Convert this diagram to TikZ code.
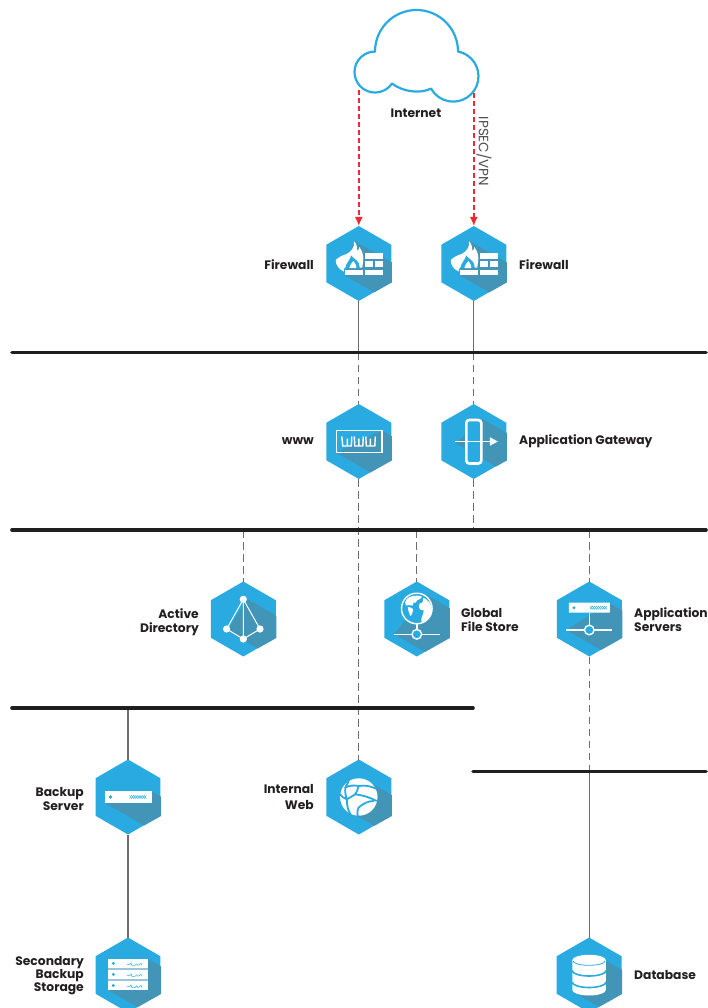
\documentclass[tikz,border=0pt]{standalone}
\usepackage{fontspec}
\setmainfont{Poppins}
\usetikzlibrary{shapes.geometric,arrows.meta,calc}
\definecolor{hexblue}{HTML}{29ABE2}
\definecolor{hexshade}{HTML}{4395B7}
\definecolor{linegray}{HTML}{6E6E6E}
\definecolor{txt}{HTML}{231F20}
\definecolor{arrowred}{HTML}{EE2A30}
\tikzset{
  hexnode/.style={regular polygon,regular polygon sides=6,shape border rotate=30,minimum size=75pt,inner sep=0pt,outer sep=0pt,fill=hexblue,draw=none},
  bus/.style={line width=3.6pt,draw=black!88,line cap=round},
  solidlink/.style={draw=linegray,line width=1.2pt},
  dashlink/.style={draw=linegray,line width=1.3pt,dash pattern=on 7.5pt off 4.5pt},
  redlink/.style={draw=arrowred,line width=1.6pt,dash pattern=on 5pt off 3pt,-{Latex[length=9pt,width=8pt]}},
  lab/.style={font=\fontsize{12.3pt}{14pt}\selectfont\bfseries,text=txt,inner sep=0pt},
  labr/.style={lab,anchor=east,align=right},
  labl/.style={lab,anchor=west,align=left},
  whiteline/.style={draw=white,line width=1.4pt},
  bluefine/.style={draw=hexblue,line width=.4pt},
  x=1pt,y=-1pt
}
\newcommand{\hexa}[5]{%
  \node[hexnode] (#1) at (#2,#3) {};
  \begin{scope}[shift={(#2,#3)}]
    \clip (0,-37.5)--(33,-19)--(33,19)--(0,37.5)--(-33,19)--(-33,-19)--cycle;
    \fill[hexshade] (#4) -- ++(87,50) -- ($(#5)+(87,50)$) -- (#5) -- cycle;
  \end{scope}%
}
\newcommand{\servdots}[2]{%
  \draw[bluefine] (#1,#2-1.6) -- ++(2.1,3.2) -- ++(2.1,-3.2) -- ++(2.1,3.2) -- ++(2.1,-3.2) -- ++(2.1,3.2) -- ++(2.1,-3.2) -- ++(2.1,3.2) -- ++(2.1,-3.2);
  \draw[bluefine] (#1,#2+1.6) -- ++(2.1,-3.2) -- ++(2.1,3.2) -- ++(2.1,-3.2) -- ++(2.1,3.2) -- ++(2.1,-3.2) -- ++(2.1,3.2) -- ++(2.1,-3.2) -- ++(2.1,3.2);
}
\newcommand{\fwicon}{%
  \fill[white] (-5,-22.5) .. controls (-1,-19) and (-2,-15) .. (-1.5,-12.5)
    .. controls (0,-13.5) and (0.5,-15) .. (0.5,-16.5)
    .. controls (4,-12) and (5,-7) .. (4.3,-2) -- (3.5,4) -- (-14,4)
    .. controls (-15,5.5) and (-15.5,6.5) .. (-15,8)
    .. controls (-20,6) and (-23.5,1) .. (-23,-3.5)
    .. controls (-20,-6.5) and (-16,-8.5) .. (-12,-9.5)
    .. controls (-8,-12) and (-3.5,-16) .. (-5,-22.5) -- cycle;
  \fill[hexblue] (-13.5,4.5) .. controls (-13,0) and (-9,-3) .. (-7.5,-8)
    .. controls (-5.5,-5) and (-1,-3) .. (0,0) -- (1,4.5) -- cycle;
  \fill[white] (-9.5,4.5) .. controls (-8.5,1) and (-6.5,-1) .. (-5.5,-2.5)
    .. controls (-4,-1) and (-2.5,1) .. (-2.5,4.5) -- cycle;
  \fill[white] (6,-10.5) rectangle (24,-5);
  \fill[white] (6,-2.5) rectangle (14.5,3);
  \fill[white] (16,-2.5) rectangle (24,3);
  \fill[white] (-14,6) rectangle (4,11.5);
  \fill[white] (6,6) rectangle (24,11.5);
}
\begin{document}
\begin{tikzpicture}
\useasboundingbox (0,0) rectangle (707,1008);
\coordinate (b1l) at (12,352.5); \coordinate (b1r) at (706,352.5);
\coordinate (b2l) at (12,530); \coordinate (b2r) at (706,530);
\coordinate (b3l) at (12,708); \coordinate (b3r) at (473,708);
\coordinate (b4l) at (473,771.5); \coordinate (b4r) at (706,771.5);
\hexa{fwa}{358.8}{263.5}{-5,-23}{-14,12}
\hexa{fwb}{473.8}{263.5}{-5,-23}{-14,12}
\hexa{www}{358.8}{441.5}{23,-11}{-23,11}
\hexa{gate}{473.8}{441.5}{8,-23}{-18,2}
\hexa{ad}{243.3}{619}{4,-20}{-16,12}
\hexa{gfs}{416.8}{619}{10,-24}{-23,15}
\hexa{apps}{589.3}{619}{20,-16}{-23,11}
\hexa{backup}{128}{797}{23,-6}{-23,6}
\hexa{web}{358.8}{797}{12,-14}{-14,12}
\hexa{sec}{128}{975}{20,-16}{-20,15}
\hexa{db}{589.1}{975}{16,-15}{-16,17}
\coordinate (cl) at (358.8,90);
\coordinate (cr) at (473.8,93);
\draw[redlink] (cl) -- (fwa.north);
\draw[redlink] (cr) -- (fwb.north);
\draw[solidlink] (fwa.south) -- (fwa.south |- b1l);
\draw[dashlink] (fwa.south |- b1l) -- (www.north);
\draw[solidlink] (fwb.south) -- (fwb.south |- b1l);
\draw[dashlink] (fwb.south |- b1l) -- (gate.north);
\draw[dashlink] (gate.south) -- (gate.south |- b2l);
\draw[dashlink] (www.south) -- (web.north);
\draw[dashlink] (ad.north |- b2l) -- (ad.north);
\draw[dashlink] (gfs.north |- b2l) -- (gfs.north);
\draw[dashlink] (apps.north |- b2l) -- (apps.north);
\draw[dashlink] (apps.south) -- (apps.south |- b4l);
\draw[solidlink] (db.north |- b4l) -- (db.north);
\draw[solidlink] (backup.north |- b3l) -- (backup.north);
\draw[solidlink] (backup.south) -- (sec.north);
\draw[bus] (b1l) -- (b1r);
\draw[bus] (b2l) -- (b2r);
\draw[bus] (b3l) -- (b3r);
\draw[bus] (b4l) -- (b4r);
\draw[draw=hexblue,line width=2.2pt,line join=round] (375,51.5) arc[start angle=180,end angle=0,radius=41.5pt]
  arc[start angle=79,end angle=-151,radius=25.3pt]
  .. controls (420,94) and (403,92) .. (392,83.5)
  arc[start angle=-34,end angle=-270,radius=20.5pt] -- cycle;
\begin{scope}[shift={(358.8,263.5)}]\fwicon\end{scope}
\begin{scope}[shift={(473.8,263.5)}]\fwicon\end{scope}
\begin{scope}[shift={(358.8,441.5)}]
  \draw[whiteline] (-22.5,-11) rectangle (23,11);
  \draw[white,line width=1.4pt] (-17,-5) -- (-16,4.5) -- (-11.5,4.5) -- (-11.5,-3) (-11.5,4.5) -- (-7.5,4.5) -- (-7,-5);
  \draw[white,line width=1.4pt] (-4.5,-5) -- (-4,4.5) -- (0,4.5) -- (0,-3) (0,4.5) -- (4,4.5) -- (4.5,-5);
  \draw[white,line width=1.4pt] (7,-5) -- (7.5,4.5) -- (11.5,4.5) -- (11.5,-3) (11.5,4.5) -- (16,4.5) -- (16.5,-5);
\end{scope}
\begin{scope}[shift={(473.8,441.5)}]
  \draw[white,line width=2.6pt,rounded corners=3pt,fill=hexblue] (-7.5,-21.5) rectangle (7.5,22);
  \draw[white,line width=1.6pt] (-19,0) -- (17,0);
  \fill[white] (16,-4.3) -- (24,0) -- (16,4.3) -- cycle;
\end{scope}
\begin{scope}[shift={(243.3,619)}]
  \draw[white,line width=1pt] (0,-19.7) -- (-16.7,10) -- (0,20) -- (16.7,10) -- cycle (0,-19.7) -- (0,20);
  \foreach \p in {(0,-19.7),(-16.7,10),(16.7,10),(0,20)} \fill[white] \p circle[radius=3.6pt];
\end{scope}
\begin{scope}[shift={(416.8,619)}]
  \draw[white,line width=1.4pt,fill=hexblue] (0,-10.5) circle[radius=15.3pt];
  \fill[white] (-10,-20) .. controls (-7,-23) and (0,-24.5) .. (5,-22.5) .. controls (4,-18.5) and (0,-20.5) .. (-1,-16.5)
    .. controls (-3,-17.5) and (-5,-15.5) .. (-4,-13.5) .. controls (-7,-13.5) and (-9,-14.5) .. (-11,-13.5) .. controls (-12,-15.5) and (-12,-18) .. (-10,-20) -- cycle;
  \fill[white] (-9,-12) .. controls (-5,-11.5) and (-3,-10.5) .. (-4,-7.5) .. controls (-5,-3.5) and (-7,-1.5) .. (-7,-4.5) .. controls (-7,-7.5) and (-10,-8.5) .. (-9,-12) -- cycle;
  \fill[white] (6,-21.5) .. controls (11,-19.5) and (15,-15) .. (15,-10) .. controls (15,-3.5) and (11,1.5) .. (5,3.5) .. controls (3,-0.5) and (7,-4.5) .. (7,-8.5) .. controls (2,-8.5) and (1,-12.5) .. (3,-15.5) .. controls (6,-15.5) and (7,-18.5) .. (6,-21.5) -- cycle;
  \draw[whiteline] (0,5) -- (0,10) (-23,15.3) -- (23,15.3);
  \draw[white,line width=1.4pt,fill=hexblue] (0,15.3) circle[radius=4.8pt];
\end{scope}
\begin{scope}[shift={(589.3,619)}]
  \fill[white,rounded corners=.5pt] (-20.5,-16.3) rectangle (20.5,-6.3);
  \fill[hexblue] (-15.3,-11.3) circle[radius=1.6pt];
  \servdots{0.8}{-11.3}
  \draw[whiteline] (0,-6.3) -- (0,7) (-23,11) -- (23,11);
  \draw[white,line width=1.4pt,fill=hexblue] (0,11) circle[radius=4.8pt];
\end{scope}
\begin{scope}[shift={(128,797)}]
  \fill[white] (-23,-6) rectangle (23.7,6);
  \fill[hexblue] (-17.5,0) circle[radius=1.9pt];
  \servdots{1.5}{0}
\end{scope}
\begin{scope}[shift={(358.8,797)}]
  \fill[white] (0,0) circle[radius=18.7pt];
  \draw[hexblue,line width=1.8pt]
    (-10,-19) .. controls (-10,-15) and (-12,-12) .. (-13.6,-9.4)
    .. controls (-14,-5) and (-13,-1) .. (-12,2.3)
    .. controls (-12,8) and (-11,13) .. (-8,18)
    (-13.6,-9.4) .. controls (-9,-11.5) and (-5,-12) .. (-0.3,-11)
    .. controls (6,-12) and (12,-11) .. (18,-8)
    (-0.3,-11) .. controls (-1,-8) and (-2,-5) .. (-3.6,-2.7)
    .. controls (-7,-1) and (-9,1) .. (-12,2.3)
    (-19,-3) .. controls (-17,0) and (-15,1) .. (-12,2.3)
    (-3.6,-2.7) .. controls (3,-2) and (10,0) .. (18,4)
    (-1,19) .. controls (-2,15) and (-1,13) .. (-0.3,10.6)
    .. controls (5,6) and (10,4) .. (15,4);
\end{scope}
\begin{scope}[shift={(128,975)}]
  \fill[hexshade!55!white] (-19.7,-12) rectangle (20,12);
  \foreach \a/\b in {-16.3/-7,-5.3/4,5.7/15.3}{
    \fill[white] (-19.7,\a) rectangle (20,\b);
    \fill[hexblue] (-14.7,{(\a+\b)/2}) circle[radius=1.6pt];
    \draw[bluefine,line width=.5pt] (-1,{(\a+\b)/2+1}) -- ++(3,0) -- ++(1,-1.5) -- ++(1,2.5) -- ++(3,0) -- ++(1.5,-1.5) -- ++(1.5,1.5) -- ++(3,-2) -- ++(1,2);
  }
\end{scope}
\begin{scope}[shift={(589.1,975)}]
  \fill[white] (-16.7,-15) -- (-16.7,15) arc[start angle=180,end angle=360,x radius=16.7pt,y radius=5.5pt] -- (16.7,-15) -- cycle;
  \fill[white] (0,-15) ellipse[x radius=16.7pt,y radius=5.2pt];
  \draw[hexblue,line width=.8pt] (-16,-14) arc[start angle=180,end angle=360,x radius=16pt,y radius=4.3pt];
  \draw[hexblue,line width=1.6pt] (-17,-4.5) arc[start angle=180,end angle=360,x radius=17pt,y radius=5.5pt];
  \draw[hexblue,line width=1.6pt] (-17,7) arc[start angle=180,end angle=360,x radius=17pt,y radius=5.5pt];
\end{scope}
\node[lab] (inet) at (416,113.5) {Internet};
\node[labr] (lfwa) at (314,264.5) {Firewall};
\node[labl] (lfwb) at (519,264.5) {Firewall};
\node[labr] (lwww) at (314,441) {www};
\node[labl] (lgate) at (519,441.5) {Application Gateway};
\node[labr] (lad) at (199,622) {Active\\Directory};
\node[labl] (lgfs) at (461,620) {Global\\File Store};
\node[labl] (lapps) at (634,620) {Application\\Servers};
\node[labr] (lback) at (84,798.5) {Backup\\Server};
\node[labr,font=\fontsize{12.3pt}{16pt}\selectfont\bfseries] (lweb) at (314,796.5) {Internal\\Web};
\node[labr,font=\fontsize{12.3pt}{13pt}\selectfont\bfseries] (lsec) at (84,975.5) {Secondary\\Backup\\Storage};
\node[labl] (ldb) at (634,974.5) {Database};
\node[font=\fontsize{13.5pt}{14pt}\selectfont,text=black!70,rotate=-90,inner sep=0pt] (ipsec) at (484,151.5) {IPSEC/VPN};
\end{tikzpicture}
\end{document}
